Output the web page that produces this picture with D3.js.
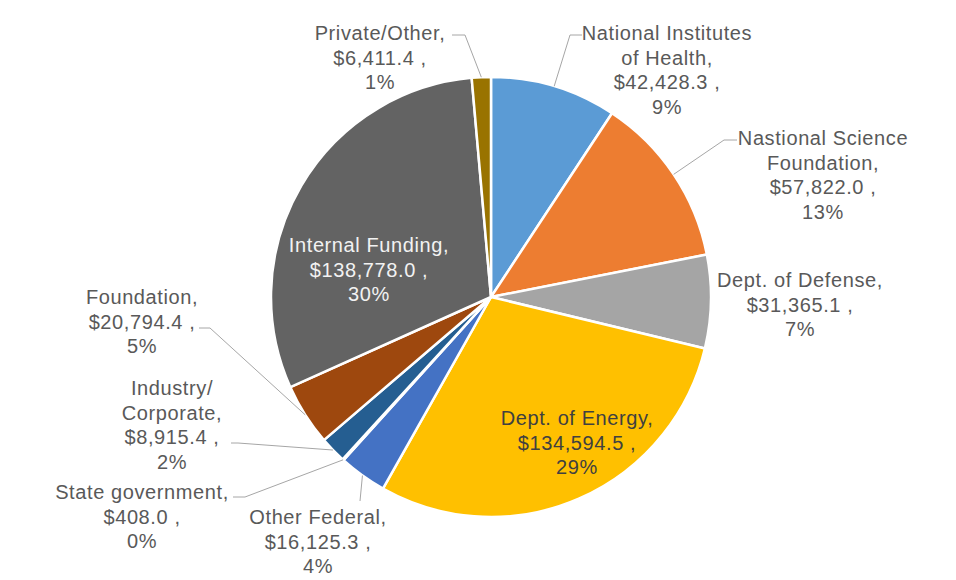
<!DOCTYPE html>
<html>
<head>
<meta charset="utf-8">
<script src="https://cdn.jsdelivr.net/npm/d3@7"></script>
<style>
  body { margin: 0; background: #fff; }
  text { font-family: "Liberation Sans", Arial, sans-serif; }
</style>
</head>
<body>
<div id="chart"></div>
<script>
// data
var categories = ["National Institutes of Health", "Nastional Science Foundation", "Dept. of Defense",
  "Dept. of Energy", "Other Federal", "State government", "Industry/ Corporate", "Foundation",
  "Internal Funding", "Private/Other"];
var amounts = [42428.3, 57822.0, 31365.1, 134594.5, 16125.3, 408.0, 8915.4, 20794.4, 138778.0, 6411.4];
var nameLines = [["National Institutes", "of Health,"], ["Nastional Science", "Foundation,"], ["Dept. of Defense,"],
  ["Dept. of Energy,"], ["Other Federal,"], ["State government,"], ["Industry/", "Corporate,"], ["Foundation,"],
  ["Internal Funding,"], ["Private/Other,"]];
var colors = ["#5B9BD5", "#ED7D31", "#A5A5A5", "#FFC000", "#4472C4", "#70AD47", "#255E91", "#9E480E", "#636363", "#997300"];

// label placement (x centre, y of first line, leader elbow points)
var labelLayout = [
  {x: 667, y: 33, fill: "#595959", lead: [[582, 35], [570, 35]]},
  {x: 823, y: 138, fill: "#595959", lead: [[737, 140], [724, 140]]},
  {x: 800, y: 280, fill: "#595959", lead: null},
  {x: 577, y: 418, fill: "#404040", lead: null},
  {x: 318, y: 517, fill: "#595959", lead: [[360, 501]]},
  {x: 142, y: 492, fill: "#595959", lead: [[233, 497], [245, 497]]},
  {x: 172, y: 388, fill: "#595959", lead: [[231, 443], [238, 443]]},
  {x: 142, y: 297, fill: "#595959", lead: [[199, 328], [210, 328]]},
  {x: 369, y: 245, fill: "#f2f2f2", lead: null},
  {x: 380, y: 33, fill: "#595959", lead: [[452, 35], [465, 35]]}
];

var svgWidth = 956;
var svgHeight = 580;
var cx = 491, cy = 297, radius = 220;

var svg = d3.select("#chart")
  .append("svg")
  .attr("width", svgWidth)
  .attr("height", svgHeight);

var total = d3.sum(amounts);
var fmtMoney = d3.format(",.1f");

var pie = d3.pie().sort(null).value(d => d);
var arcs = pie(amounts);

var arc = d3.arc().innerRadius(0).outerRadius(radius);

var pieGroup = svg.append("g")
  .attr("transform", `translate(${cx}, ${cy})`);

pieGroup.selectAll("path")
  .data(arcs)
  .enter()
  .append("path")
  .attr("d", arc)
  .attr("fill", (d, i) => colors[i])
  .attr("stroke", "#fff")
  .attr("stroke-width", 2.5)
  .attr("stroke-linejoin", "round");

// leader lines
arcs.forEach(function(a, i) {
  var lay = labelLayout[i];
  if (!lay.lead) return;
  var mid = (a.startAngle + a.endAngle) / 2;
  var anchor = [cx + radius * Math.sin(mid), cy - radius * Math.cos(mid)];
  var pts = lay.lead.concat([anchor]);
  svg.append("path")
    .attr("d", d3.line()(pts))
    .attr("fill", "none")
    .attr("stroke", "#a6a6a6")
    .attr("stroke-width", 1);
});

// labels
arcs.forEach(function(a, i) {
  var lay = labelLayout[i];
  var pct = Math.round(amounts[i] / total * 100) + "%";
  var lines = nameLines[i].concat(["$" + fmtMoney(amounts[i]) + " ,", pct]);
  var t = svg.append("text")
    .attr("text-anchor", "middle")
    .attr("font-size", 20)
    .attr("letter-spacing", 0.6)
    .attr("fill", lay.fill);
  lines.forEach(function(line, j) {
    t.append("tspan")
      .attr("x", lay.x)
      .attr("y", lay.y + j * 24.5)
      .attr("dy", "0.35em")
      .text(line);
  });
});
</script>
</body>
</html>
